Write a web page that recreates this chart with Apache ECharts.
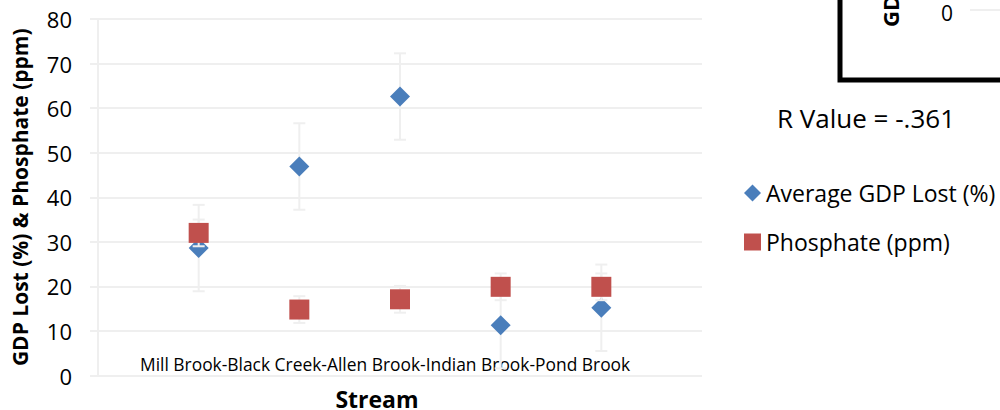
<!DOCTYPE html>
<html>
<head>
<meta charset="utf-8">
<script src="https://cdn.jsdelivr.net/npm/echarts@6/dist/echarts.min.js"></script>
<style>
  html, body { margin: 0; padding: 0; background: #ffffff; }
  #chart { width: 1000px; height: 410px; }
</style>
</head>
<body>
<div id="chart"></div>
<script>
// Streams sampled, in the order they are plotted
const streams = ['Mill Brook', 'Black Creek', 'Allen Brook', 'Indian Brook', 'Pond Brook'];
// Average GDP lost per stream (%) and its error bar half-width
const gdpLost = [28.6, 46.9, 62.6, 11.3, 15.2];
const gdpError = [9.7, 9.7, 9.7, 9.7, 9.7];
// Phosphate concentration per stream (ppm) and its error bar half-width
const phosphate = [32.0, 14.8, 17.1, 19.9, 19.9];
const phosphateError = [3.0, 3.0, 3.0, 3.0, 3.0];
// Value axis ticks
const yTicks = [0, 10, 20, 30, 40, 50, 60, 70, 80];
const rValueText = 'R Value = -.361';

const FONT = 'Open Sans';
const GRID_COLOR = '#efefef';
const BLUE = '#4a7ebb';
const RED = '#c0504d';

function points(values) {
  return values.map((v, i) => [i + 1, v]);
}
function errorData(values, errs) {
  return values.map((v, i) => [i + 1, v - errs[i], v + errs[i]]);
}
function errorBar(params, api) {
  const x = api.value(0);
  const lo = api.coord([x, api.value(1)]);
  const hi = api.coord([x, api.value(2)]);
  const half = 6;
  const style = { stroke: GRID_COLOR, lineWidth: 2 };
  return {
    type: 'group',
    children: [
      { type: 'line', shape: { x1: lo[0], y1: lo[1], x2: hi[0], y2: hi[1] }, style },
      { type: 'line', shape: { x1: lo[0] - half, y1: lo[1], x2: lo[0] + half, y2: lo[1] }, style },
      { type: 'line', shape: { x1: hi[0] - half, y1: hi[1], x2: hi[0] + half, y2: hi[1] }, style }
    ]
  };
}

const chart = echarts.init(document.getElementById('chart'), null, { renderer: 'svg' });

chart.setOption({
  animation: false,
  backgroundColor: '#ffffff',
  textStyle: { fontFamily: FONT, color: '#000000' },
  grid: { left: 98, right: 298, top: 19, bottom: 34.5, containLabel: false, outerBoundsMode: 'none' },
  xAxis: {
    type: 'value',
    min: 0,
    max: streams.length + 1,
    axisLine: { show: false },
    axisTick: { show: false },
    axisLabel: { show: false },
    splitLine: { show: false },
    name: 'Stream',
    nameLocation: 'middle',
    nameGap: 12,
    nameTextStyle: { fontFamily: FONT, fontWeight: 'bold', fontSize: 23, color: '#000', padding: [0, 46, 0, 0] }
  },
  yAxis: {
    type: 'value',
    min: yTicks[0],
    max: yTicks[yTicks.length - 1],
    interval: yTicks[1] - yTicks[0],
    axisLine: { show: true, lineStyle: { color: GRID_COLOR, width: 2 } },
    axisTick: { show: true, length: 8, lineStyle: { color: GRID_COLOR, width: 2 } },
    axisLabel: { fontFamily: FONT, fontSize: 22, color: '#000', margin: 26 },
    splitLine: { show: true, lineStyle: { color: GRID_COLOR, width: 2 } },
    name: 'GDP Lost (%) & Phosphate (ppm)',
    nameLocation: 'middle',
    nameGap: 68,
    nameTextStyle: { fontFamily: FONT, fontWeight: 'bold', fontSize: 21, color: '#000' }
  },
  legend: {
    orient: 'vertical',
    left: 739,
    top: 176,
    itemWidth: 17,
    itemHeight: 17,
    itemGap: 25,
    textStyle: { fontFamily: FONT, fontSize: 23, color: '#000', lineHeight: 24 },
    data: [
      { name: 'Average GDP Lost (%)', icon: 'diamond' },
      { name: 'Phosphate (ppm)', icon: 'rect' }
    ]
  },
  graphic: [
    {
      type: 'text',
      x: 140,
      y: 364,
      style: { text: streams.join('-'), fontFamily: FONT, fontSize: 17.4, fill: '#000', align: 'left', verticalAlign: 'middle' }
    },
    {
      type: 'text',
      x: 777,
      y: 118,
      style: { text: rValueText, fontFamily: FONT, fontSize: 26, fill: '#000', align: 'left', verticalAlign: 'middle' }
    },
    // Corner of the neighbouring correlation chart
    {
      type: 'rect',
      shape: { x: 840, y: -20, width: 200, height: 100 },
      style: { fill: 'none', stroke: '#000', lineWidth: 5 }
    },
    {
      type: 'line',
      shape: { x1: 970, y1: 10, x2: 1000, y2: 10 },
      style: { stroke: GRID_COLOR, lineWidth: 2 }
    },
    {
      type: 'text',
      x: 947,
      y: 13,
      style: { text: '0', fontFamily: FONT, fontSize: 21, lineHeight: 18, fill: '#000', align: 'center', verticalAlign: 'middle' }
    },
    {
      type: 'text',
      x: 890,
      y: 27,
      rotation: Math.PI / 2,
      style: { text: 'GDP Lost (%)', fontFamily: FONT, fontWeight: 'bold', fontSize: 22, fill: '#000', align: 'left', verticalAlign: 'middle' }
    }
  ],
  series: [
    {
      type: 'custom',
      name: 'gdpErr',
      z: 1,
      renderItem: errorBar,
      data: errorData(gdpLost, gdpError),
      encode: { x: 0, y: [1, 2] },
      silent: true
    },
    {
      type: 'scatter',
      name: 'Average GDP Lost (%)',
      z: 2,
      symbol: 'diamond',
      symbolSize: [20, 20],
      itemStyle: { color: BLUE, opacity: 1 },
      data: points(gdpLost)
    },
    {
      type: 'custom',
      name: 'phosErr',
      z: 3,
      renderItem: errorBar,
      data: errorData(phosphate, phosphateError),
      encode: { x: 0, y: [1, 2] },
      silent: true
    },
    {
      type: 'scatter',
      name: 'Phosphate (ppm)',
      z: 4,
      symbol: 'rect',
      symbolSize: [20, 20],
      itemStyle: { color: RED, opacity: 1 },
      data: points(phosphate)
    }
  ]
});
</script>
</body>
</html>
